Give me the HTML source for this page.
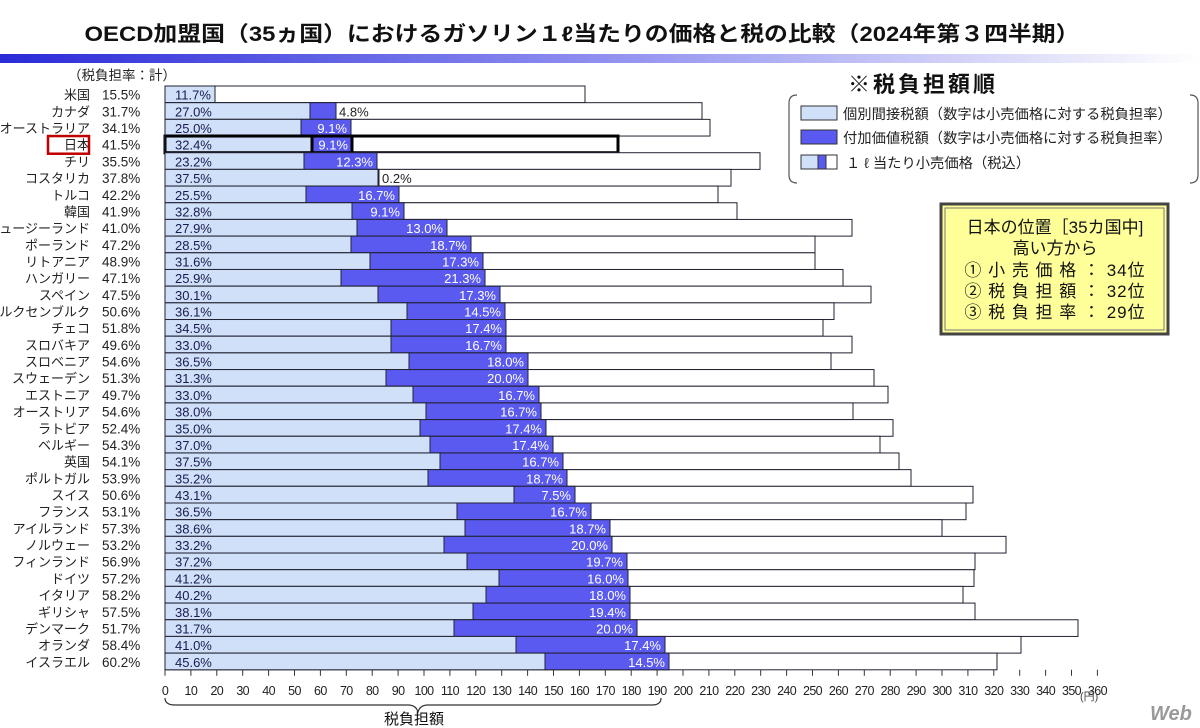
<!DOCTYPE html>
<html><head><meta charset="utf-8"><style>
html,body{margin:0;padding:0;background:#fff;}
svg{display:block;font-family:"Liberation Sans","Noto Sans CJK JP",sans-serif;}
</style></head><body>
<svg width="1200" height="728" viewBox="0 0 1200 728" xmlns="http://www.w3.org/2000/svg">
<defs>
<linearGradient id="g" x1="0" x2="1" y1="0" y2="0">
<stop offset="0" stop-color="#2a2ad8"/><stop offset="0.5" stop-color="#8f8ff0"/><stop offset="1" stop-color="#ffffff"/>
</linearGradient>
</defs>
<text x="582" y="41" text-anchor="middle" font-size="21" font-weight="bold" fill="#111" textLength="995" lengthAdjust="spacingAndGlyphs">OECD加盟国（35ヵ国）におけるガソリン１ℓ当たりの価格と税の比較（2024年第３四半期）</text>
<rect x="0" y="54" width="1200" height="9" fill="url(#g)"/>
<text x="68" y="80" font-size="13.5" fill="#222">（税負担率：計）</text>
<g id="rows"></g>
<path d="M165 698 Q165 705 175 705 L408 705 Q416 705 418 712 Q420 705 428 705 L652 705 Q661 705 661 698" fill="none" stroke="#333" stroke-width="1.2"/>
<text x="414" y="724" text-anchor="middle" font-size="15" fill="#111">税負担額</text>
<text x="1080" y="700" font-size="11" fill="#444">(円)</text>
<text x="848" y="92" font-size="22" font-weight="bold" fill="#111" letter-spacing="3">※税負担額順</text>
<path d="M797 95 Q789 95 789 103 L789 175 Q789 183 797 183" fill="none" stroke="#555" stroke-width="1.2"/>
<path d="M1190 95 Q1198 95 1198 103 L1198 175 Q1198 183 1190 183" fill="none" stroke="#555" stroke-width="1.2"/>
<rect x="801" y="106" width="36" height="14" fill="#cfe0f8" stroke="#333"/>
<text x="843" y="119" font-size="14.3" fill="#222">個別間接税額（数字は小売価格に対する税負担率）</text>
<rect x="801" y="130" width="36" height="14" fill="#5a5af0" stroke="#333"/>
<text x="843" y="143" font-size="14.3" fill="#222">付加価値税額（数字は小売価格に対する税負担率）</text>
<rect x="801" y="155" width="36" height="14" fill="#fff" stroke="#333"/>
<rect x="801" y="155" width="17" height="14" fill="#cfe0f8" stroke="#333"/>
<rect x="818" y="155" width="8" height="14" fill="#5a5af0" stroke="#333"/>
<text x="846" y="168" font-size="14.3" fill="#222">１ ℓ 当たり小売価格（税込）</text>
<rect x="941" y="204" width="227" height="130" fill="#ffff99" stroke="#444" stroke-width="3"/>
<rect x="945" y="208" width="219" height="122" fill="none" stroke="#777" stroke-width="1"/>
<g font-size="17" fill="#111" text-anchor="middle">
<text x="1055" y="233">日本の位置［35カ国中]</text>
<text x="1055" y="254">高い方から</text>
<text x="1055" y="276" letter-spacing="1">① 小 売 価 格 ： 34位</text>
<text x="1055" y="297" letter-spacing="1">② 税 負 担 額 ： 32位</text>
<text x="1055" y="318" letter-spacing="1">③ 税 負 担 率 ： 29位</text>
</g>
<text x="1150" y="720" font-size="20" font-weight="bold" fill="#999" font-style="italic">Web</text>
</svg>
<script>
(function(){
const d=[["米国","15.5%","11.7%","",215,215,585],["カナダ","31.7%","27.0%","4.8%",310,336,702],["オーストラリア","34.1%","25.0%","9.1%",301,351,710],["日本","41.5%","32.4%","9.1%",312,352,618],["チリ","35.5%","23.2%","12.3%",304,377,760],["コスタリカ","37.8%","37.5%","0.2%",378,379,731],["トルコ","42.2%","25.5%","16.7%",306,399,718],["韓国","41.9%","32.8%","9.1%",352,404,737],["ニュージーランド","41.0%","27.9%","13.0%",357,447,852],["ポーランド","47.2%","28.5%","18.7%",351,471,815],["リトアニア","48.9%","31.6%","17.3%",370,483,815],["ハンガリー","47.1%","25.9%","21.3%",341,485,843],["スペイン","47.5%","30.1%","17.3%",378,500,871],["ルクセンブルク","50.6%","36.1%","14.5%",407,505,834],["チェコ","51.8%","34.5%","17.4%",391,506,823],["スロバキア","49.6%","33.0%","16.7%",391,506,852],["スロベニア","54.6%","36.5%","18.0%",409,528,831],["スウェーデン","51.3%","31.3%","20.0%",386,528,874],["エストニア","49.7%","33.0%","16.7%",413,539,888],["オーストリア","54.6%","38.0%","16.7%",426,541,853],["ラトビア","52.4%","35.0%","17.4%",420,546,893],["ベルギー","54.3%","37.0%","17.4%",430,553,880],["英国","54.1%","37.5%","16.7%",440,563,899],["ポルトガル","53.9%","35.2%","18.7%",428,567,911],["スイス","50.6%","43.1%","7.5%",514,575,973],["フランス","53.1%","36.5%","16.7%",457,591,966],["アイルランド","57.3%","38.6%","18.7%",465,610,942],["ノルウェー","53.2%","33.2%","20.0%",444,612,1006],["フィンランド","56.9%","37.2%","19.7%",467,627,975],["ドイツ","57.2%","41.2%","16.0%",499,628,974],["イタリア","58.2%","40.2%","18.0%",486,630,963],["ギリシャ","57.5%","38.1%","19.4%",473,630,975],["デンマーク","51.7%","31.7%","20.0%",454,637,1078],["オランダ","58.4%","41.0%","17.4%",516,665,1021],["イスラエル","60.2%","45.6%","14.5%",545,669,997]];
const NS="http://www.w3.org/2000/svg";const g=document.getElementById("rows");
function el(t,a,txt){const e=document.createElementNS(NS,t);for(const k in a)e.setAttribute(k,a[k]);if(txt!=null)e.textContent=txt;g.appendChild(e);return e;}
const X0=165,T0=86,p=16.68;
d.forEach((r,i)=>{const y=T0+i*p,h=p;const jp=r[0]=="日本";const sw=jp?3:1;const sc=jp?"#000":"#223";
el("rect",{x:X0,y:y,width:r[6]-X0,height:h,fill:"#fff",stroke:sc,"stroke-width":sw});
el("rect",{x:X0,y:y,width:r[4]-X0,height:h,fill:"#cfe0f8",stroke:sc,"stroke-width":sw});
if(r[5]>r[4])el("rect",{x:r[4],y:y,width:r[5]-r[4],height:h,fill:"#5a5af0",stroke:sc,"stroke-width":sw});
const ty=y+h-3;
el("text",{x:90,y:ty,"text-anchor":"end","font-size":13,fill:"#222"},r[0]);
el("text",{x:102,y:ty,"font-size":13.5,fill:"#222"},r[1]);
el("text",{x:175,y:ty,"font-size":13,fill:"#1a1a50"},r[2]);
if(r[3]){const w=r[5]-r[4];if(w>30)el("text",{x:r[5]-4,y:ty,"text-anchor":"end","font-size":13,fill:"#fff"},r[3]);else el("text",{x:r[5]+3,y:ty,"font-size":13,fill:"#222"},r[3]);}
if(jp)el("rect",{x:48,y:y,width:41,height:h+1,fill:"none",stroke:"#c00000","stroke-width":2.5});
});
const by=T0+35*p;
el("line",{x1:X0,y1:T0,x2:X0,y2:by,stroke:"#223"});
for(let v=0;v<=360;v+=10){const x=X0+v*2.59;el("line",{x1:x,y1:by,x2:x,y2:by+6,stroke:"#333"});el("text",{x:x,y:by+25,"text-anchor":"middle","font-size":12.5,fill:"#222","letter-spacing":"-0.6"},String(v));}
})();
</script>
</body></html>
